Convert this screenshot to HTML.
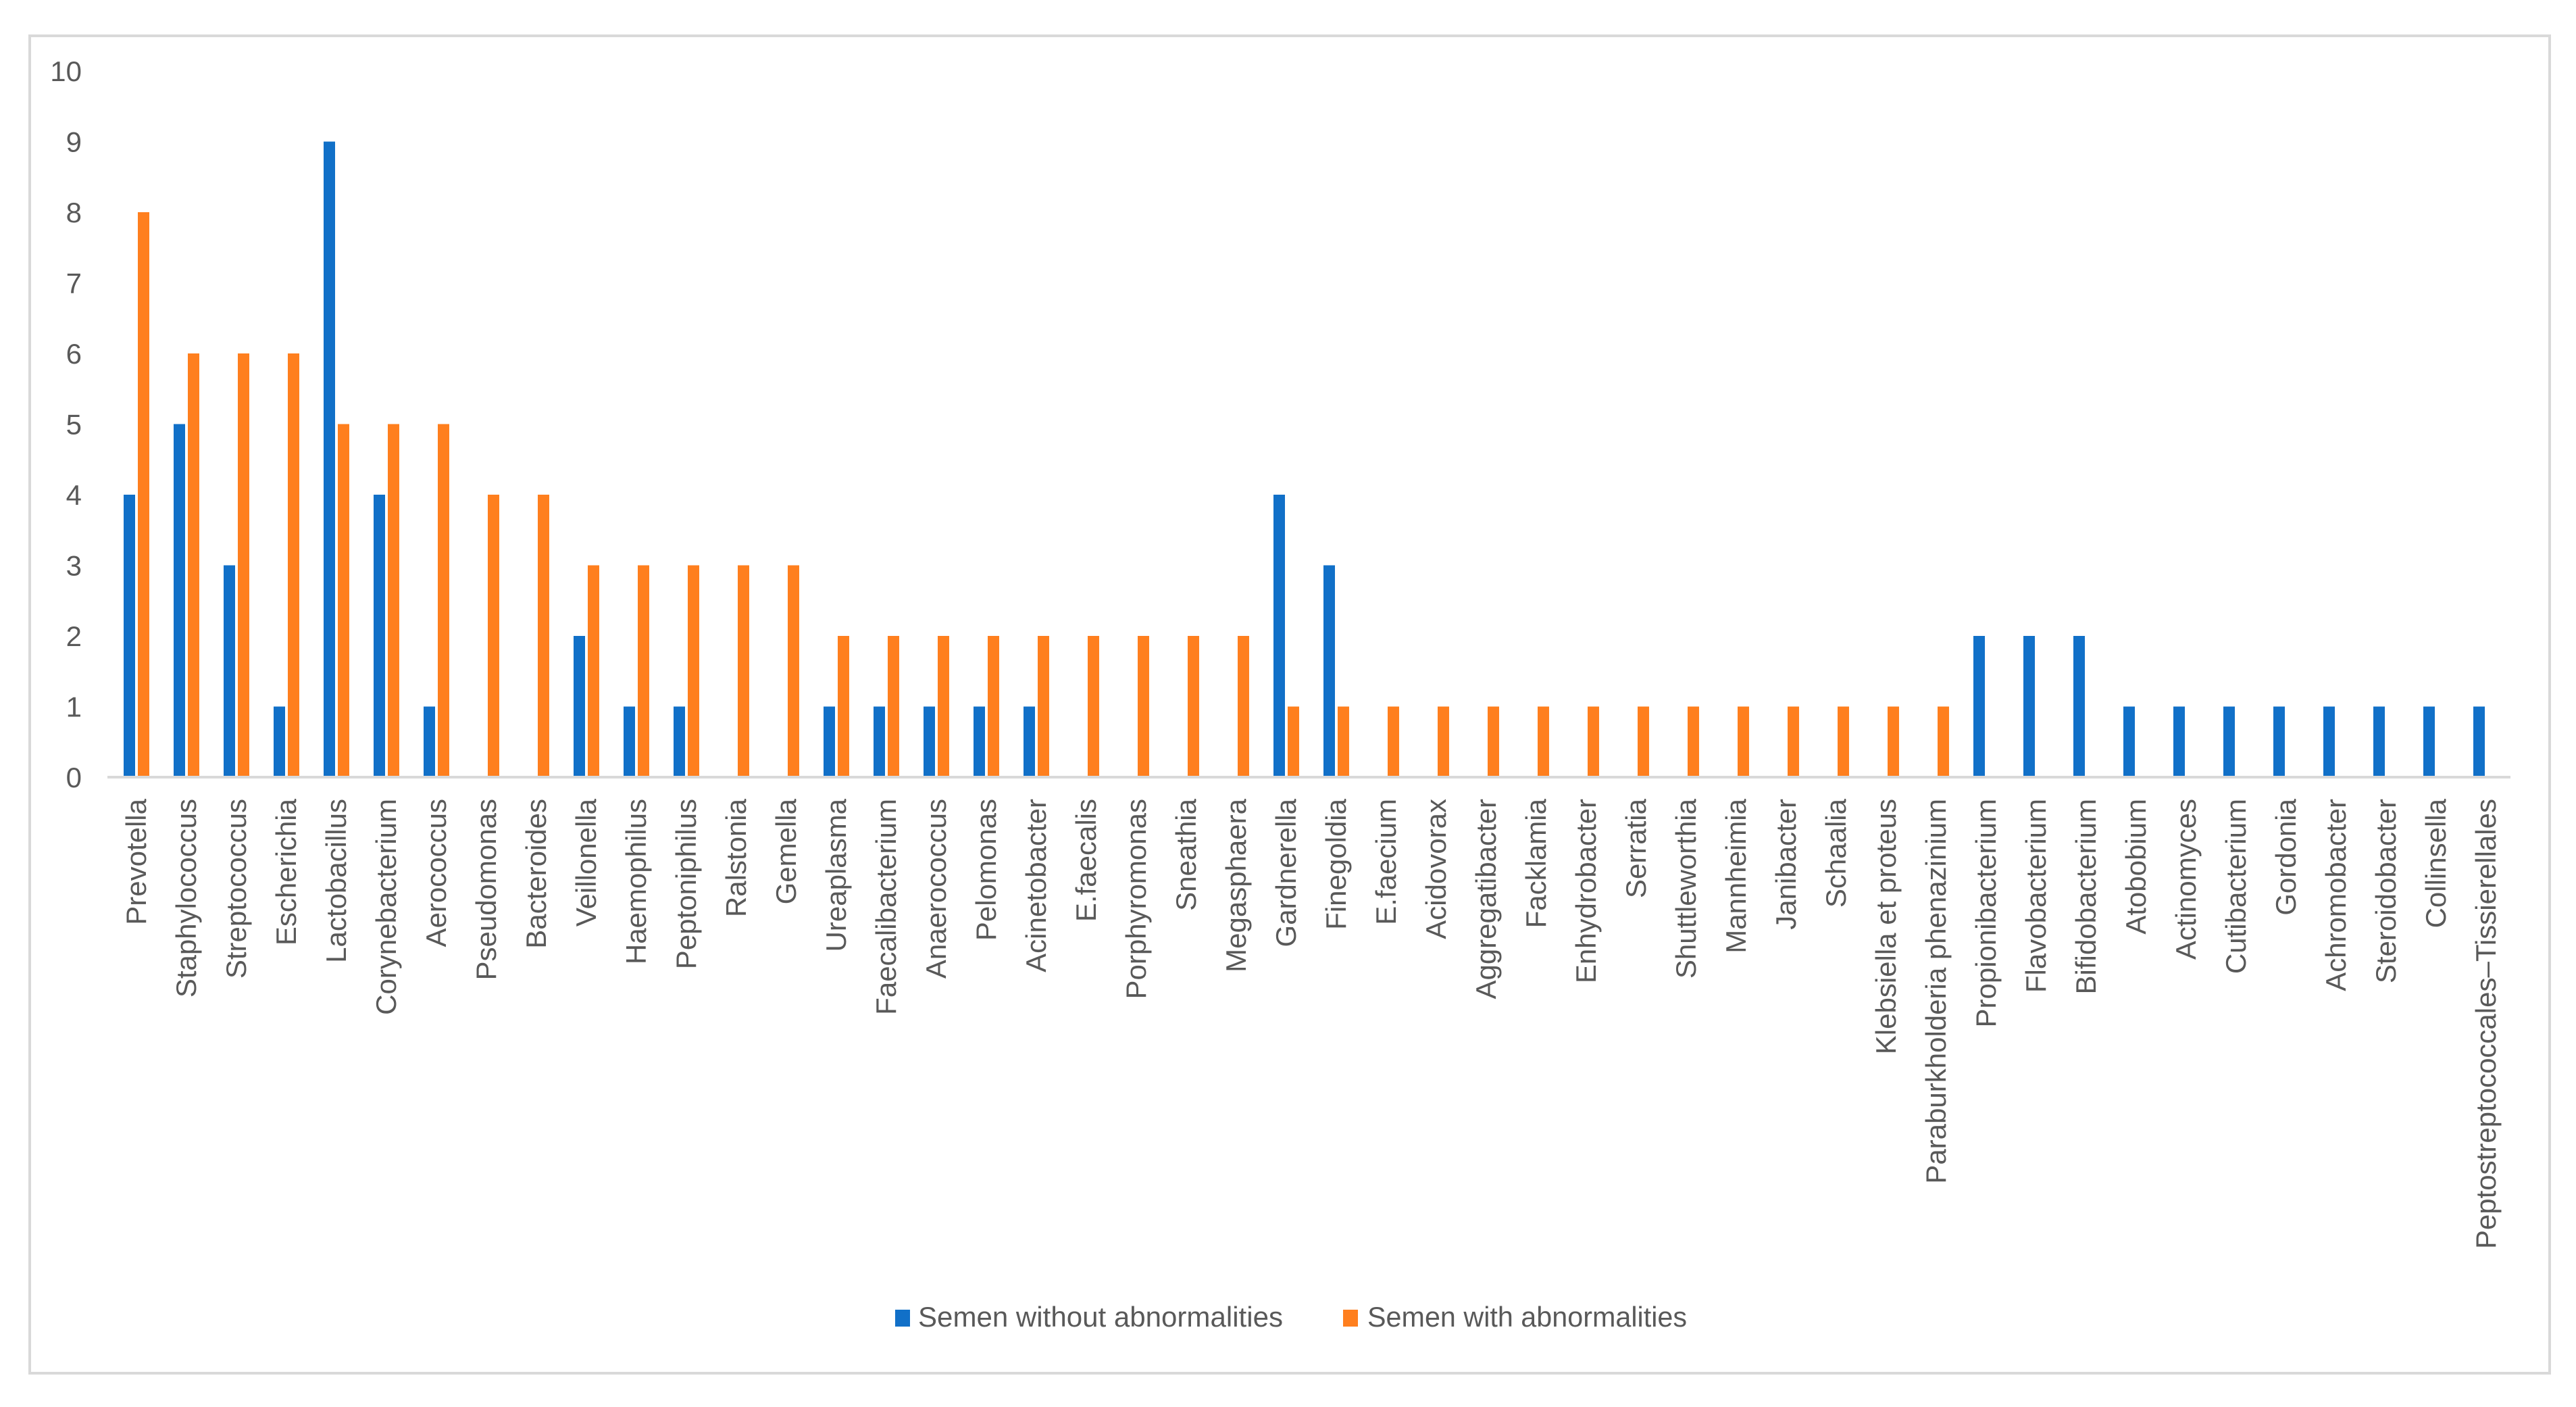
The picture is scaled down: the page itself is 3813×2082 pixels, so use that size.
<!DOCTYPE html>
<html><head><meta charset="utf-8"><style>
html,body{margin:0;padding:0;background:#fff;}
svg{display:block;font-family:"Liberation Sans",sans-serif;}
</style></head><body>
<svg id="chart" width="3813" height="2082" viewBox="0 0 3813 2082" xmlns="http://www.w3.org/2000/svg">
<rect x="44" y="53" width="3730" height="1979" fill="#fff" stroke="#d9d9d9" stroke-width="4"/>
<g id="yaxis"></g>
<g id="bars"></g>
<line x1="159" y1="1150" x2="3716" y2="1150" stroke="#d9d9d9" stroke-width="4"/>
<g id="xlabels"></g>
<g>
<g>
<rect x="1325" y="1938" width="22" height="25" fill="#1170C8"/>
<text x="1359" y="1963" font-size="42" fill="#595959" textLength="540" lengthAdjust="spacingAndGlyphs">Semen without abnormalities</text>
</g>
<g>
<rect x="1988" y="1938" width="22" height="25" fill="#FF7F1E"/>
<text x="2024" y="1963" font-size="42" fill="#595959" textLength="473" lengthAdjust="spacingAndGlyphs">Semen with abnormalities</text>
</g>
</g>
</svg>
<script>
const categories = ["Prevotella","Staphylococcus","Streptococcus","Escherichia","Lactobacillus","Corynebacterium","Aerococcus","Pseudomonas","Bacteroides","Veillonella","Haemophilus","Peptoniphilus","Ralstonia","Gemella","Ureaplasma","Faecalibacterium","Anaerococcus","Pelomonas","Acinetobacter","E.faecalis","Porphyromonas","Sneathia","Megasphaera","Gardnerella","Finegoldia","E.faecium","Acidovorax","Aggregatibacter","Facklamia","Enhydrobacter","Serratia","Shuttleworthia","Mannheimia","Janibacter","Schaalia","Klebsiella et proteus","Paraburkholderia phenazinium","Propionibacterium","Flavobacterium","Bifidobacterium","Atobobium","Actinomyces","Cutibacterium","Gordonia","Achromobacter","Steroidobacter","Collinsella","Peptostreptococcales\u2013Tissierellales"];
const withoutAbn = [4,5,3,1,9,4,1,0,0,2,1,1,0,0,1,1,1,1,1,0,0,0,0,4,3,0,0,0,0,0,0,0,0,0,0,0,0,2,2,2,1,1,1,1,1,1,1,1];
const withAbn = [8,6,6,6,5,5,5,4,4,3,3,3,3,3,2,2,2,2,2,2,2,2,2,1,1,1,1,1,1,1,1,1,1,1,1,1,1,0,0,0,0,0,0,0,0,0,0,0];
const yTicks = [0,1,2,3,4,5,6,7,8,9,10];

const NS = "http://www.w3.org/2000/svg";
function yScale(v){ return 1150 - v*104.5; }
function xCenter(i){ return 202 + i*74; }

const ya = document.getElementById('yaxis');
yTicks.forEach(t=>{
  const tx = document.createElementNS(NS,'text');
  
  
  tx.setAttribute('x',121); tx.setAttribute('y',yScale(t)+15);
  tx.setAttribute('text-anchor','end'); tx.setAttribute('font-size','42'); tx.setAttribute('fill','#595959');
  tx.textContent = t;
  ya.appendChild(tx);
});

const bg = document.getElementById('bars');
function bar(x,v,color,name){
  if(v<=0) return;
  const r = document.createElementNS(NS,'rect');
  
  
  r.setAttribute('x',x); r.setAttribute('width',17);
  r.setAttribute('y',yScale(v)); r.setAttribute('height',yScale(0)-yScale(v));
  r.setAttribute('fill',color);
  bg.appendChild(r);
}
const xl = document.getElementById('xlabels');
categories.forEach((c,i)=>{
  const cx = xCenter(i);
  bar(cx-19, withoutAbn[i], '#1170C8', 'bar-without');
  bar(cx+2, withAbn[i], '#FF7F1E', 'bar-with');
  const t = document.createElementNS(NS,'text');
  
  
  t.setAttribute('transform','translate('+(cx+14)+',1182) rotate(-90)');
  t.setAttribute('text-anchor','end'); t.setAttribute('font-size','42'); t.setAttribute('fill','#595959');
  t.textContent = c;
  xl.appendChild(t);
});
</script>
</body></html>
